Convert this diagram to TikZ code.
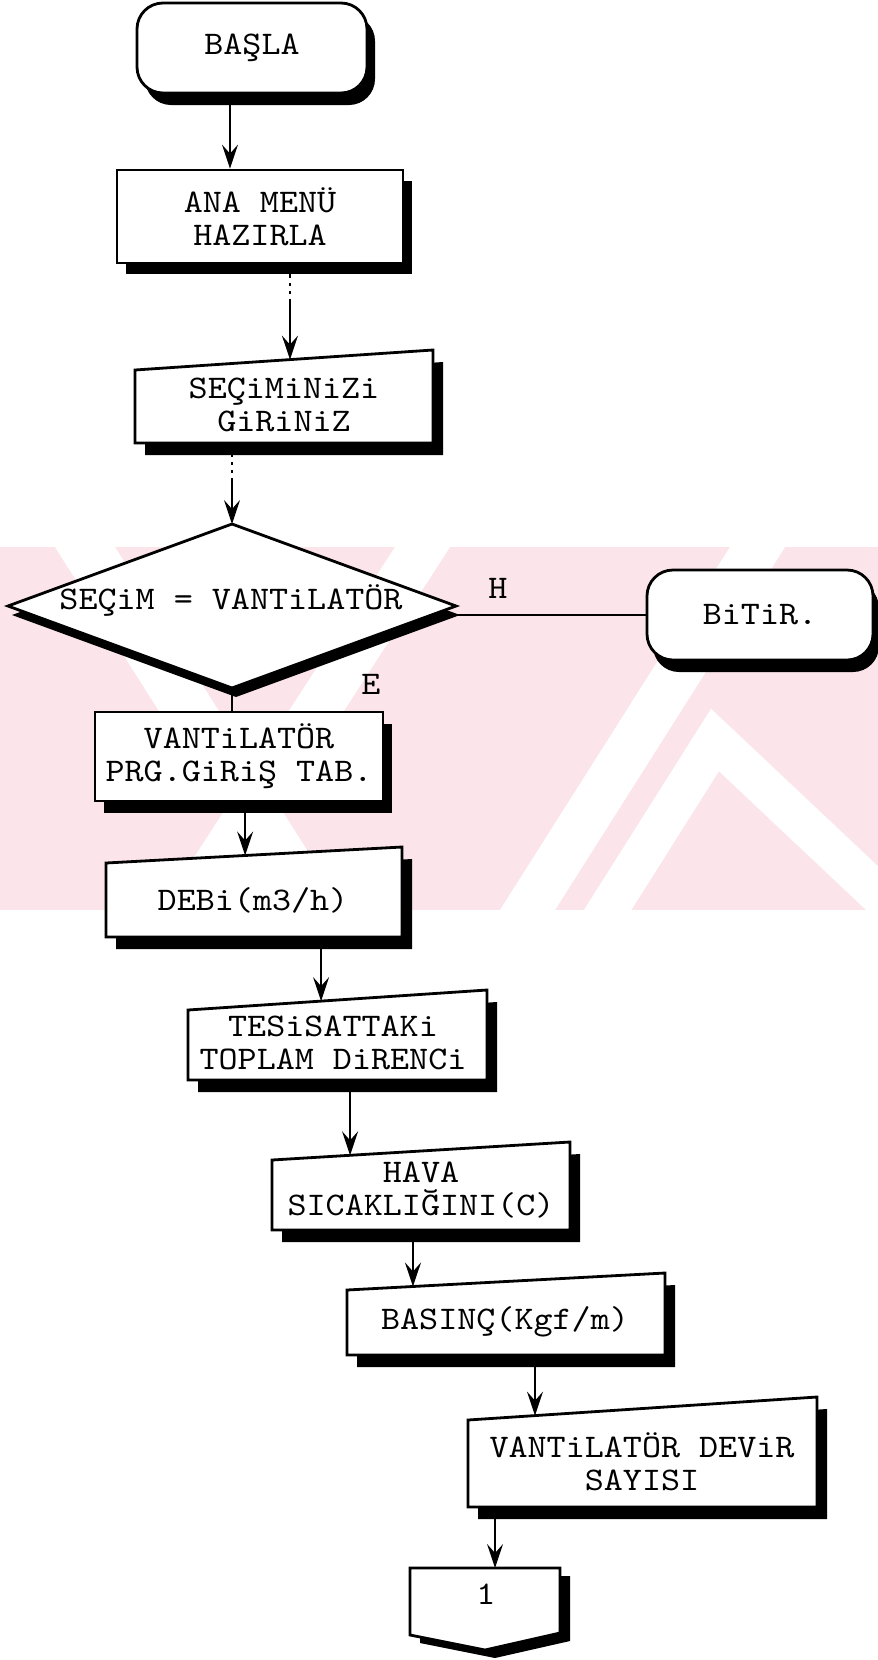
\documentclass[tikz,border=0pt]{standalone}
\usepackage{fontspec}
\usetikzlibrary{arrows.meta,calc}

\definecolor{wmpink}{RGB}{251,229,234}
\newfontfamily\boxff{lmmono10-regular.otf}[FakeStretch=1.1]
\newcommand\boxfont{\boxff\fontsize{33}{33}\selectfont}

\tikzset{
  outline/.style={draw=black, line width=2.8pt, fill=white},
  term/.style={outline, rounded corners=26pt, font=\boxfont, align=center, inner sep=0pt},
  proc/.style={outline, font=\boxfont, align=center, inner sep=0pt},
  txt/.style={font=\boxfont, align=center, inner sep=0pt},
  lbl/.style={font=\boxfont, inner sep=0pt},
  arr/.style={line width=1.3pt, -{Stealth[length=24pt,width=16pt,inset=9pt]}},
  link/.style={line width=1.3pt},
  dashlead/.style={dash pattern=on 14pt off 5pt on 3pt off 5pt on 3pt off 5pt on 400pt},
}

% input box with a sloping top edge, drop shadow and centred text
% #1 name, #2 left x, #3 right x, #4 top y at left, #5 top y at right,
% #6 bottom y, #7 text position, #8 text
\newcommand\slantbox[8]{%
  \coordinate (#1-tl) at (#2,#4);
  \coordinate (#1-tr) at (#3,#5);
  \coordinate (#1-br) at (#3,#6);
  \coordinate (#1-bl) at (#2,#6);
  \fill[black] (#2+10,#4+12) -- (#3+10,#5+12) -- (#3+10,#6+12) -- (#2+10,#6+12) -- cycle;
  \draw[outline] (#1-tl) -- (#1-tr) -- (#1-br) -- (#1-bl) -- cycle;
  \node[txt] (#1) at (#7) {#8};
}

\begin{document}
\begin{tikzpicture}[x=1pt,y=-1pt]
\useasboundingbox (0,0) rectangle (878,1660);

% faint band mark behind the decision
\begin{scope}
  \clip (0,547) rectangle (878,910);
  \fill[wmpink] (0,547) rectangle (878,910);
  \fill[white] (55,547) -- (115,547) -- (345,910) -- (285,910) -- cycle;
  \fill[white] (395,547) -- (450,547) -- (215,910) -- (160,910) -- cycle;
  \fill[white] (730,547) -- (785,547) -- (555,910) -- (500,910) -- cycle;
  \draw[white, line width=40pt] (595,930) -- (715,740) -- (890,905);
\end{scope}

% start terminal
\fill[black, rounded corners=26pt] (145,15) rectangle (375,105);
\node[term, minimum width=230pt, minimum height=90pt] (start) at (252,48) {BAŞLA};

% main menu
\fill[black] (126,181) rectangle (412,274);
\node[proc, minimum width=286pt, minimum height=93pt] (ana) at (260,216.5) {ANA MENÜ\\HAZIRLA};

% selection input
\slantbox{sec}{135}{433}{370}{350}{443}{284,405}{SEÇiMiNiZi\\GiRiNiZ}

% decision
\coordinate (dec-n) at (232,524);
\coordinate (dec-e) at (456,606);
\coordinate (dec-s) at (232,688);
\coordinate (dec-w) at (8,606);
\fill[black] (236,533) -- (460,615) -- (236,697) -- (12,615) -- cycle;
\draw[outline] (dec-n) -- (dec-e) -- (dec-s) -- (dec-w) -- cycle;
\node[txt] (dec) at (231,600) {SEÇiM = VANTiLATÖR};

% end terminal
\fill[black, rounded corners=26pt] (653,582) rectangle (879,672);
\node[term, minimum width=226pt, minimum height=90pt] (bitir) at (760,615) {BiTiR.};

% fan program table
\fill[black] (104,724) rectangle (392,813);
\node[proc, minimum width=288pt, minimum height=89pt] (van) at (239,756.5) {VANTiLATÖR\\PRG.GiRiŞ TAB.};

% input steps
\slantbox{deb}{106}{402}{863}{847}{937}{253,900}{DEBi(m3/h)}
\slantbox{tes}{188}{487}{1010}{990}{1080}{333,1043}{TESiSATTAKi\\TOPLAM DiRENCi}
\slantbox{hav}{272}{570}{1160}{1142}{1230}{421,1190}{HAVA\\SICAKLIĞINI(C)}
\slantbox{bas}{347}{665}{1290}{1273}{1355}{505,1322}{BASINÇ(Kgf/m)}
\slantbox{vds}{468}{817}{1420}{1397}{1507}{642,1462}{VANTiLATÖR DEViR\\SAYISI}

% off-page connector
\coordinate (off-tl) at (410,1568);
\coordinate (off-tr) at (560,1568);
\fill[black] (420,1576) -- (570,1576) -- (570,1641) -- (495,1658) -- (420,1643) -- cycle;
\draw[outline] (off-tl) -- (off-tr) -- (560,1633) -- (485,1650) -- (410,1635) -- cycle;
\node[txt] (off) at (486,1594) {1};

% branch labels
\node[lbl] (lblH) at (498,588) {H};
\node[lbl] (lblE) at (371,684) {E};

% connectors
\draw[arr] ([xshift=-22pt]start.south) -- ([xshift=-22pt]start.south |- ana.north);
\coordinate (sec-in) at ($(sec-tl)!0.52!(sec-tr)$);
\draw[arr, dashlead] (sec-in |- ana.south) -- (sec-in);
\draw[arr, dashlead] (dec-n |- sec-bl) -- (dec-n);
\draw[link] (dec-e |- bitir.west) -- (bitir.west);
\draw[link] (dec-s) -- (dec-s |- van.north);
\coordinate (deb-in) at ($(deb-tl)!0.47!(deb-tr)$);
\draw[arr] (deb-in |- van.south) -- (deb-in);
\coordinate (tes-in) at ($(tes-tl)!0.445!(tes-tr)$);
\draw[arr] (tes-in |- deb-bl) -- (tes-in);
\coordinate (hav-in) at ($(hav-tl)!0.262!(hav-tr)$);
\draw[arr] (hav-in |- tes-bl) -- (hav-in);
\coordinate (bas-in) at ($(bas-tl)!0.2075!(bas-tr)$);
\draw[arr] (bas-in |- hav-bl) -- (bas-in);
\coordinate (vds-in) at ($(vds-tl)!0.192!(vds-tr)$);
\draw[arr] (vds-in |- bas-bl) -- (vds-in);
\coordinate (off-in) at ($(off-tl)!0.567!(off-tr)$);
\draw[arr] (off-in |- vds-bl) -- (off-in);

\end{tikzpicture}
\end{document}
